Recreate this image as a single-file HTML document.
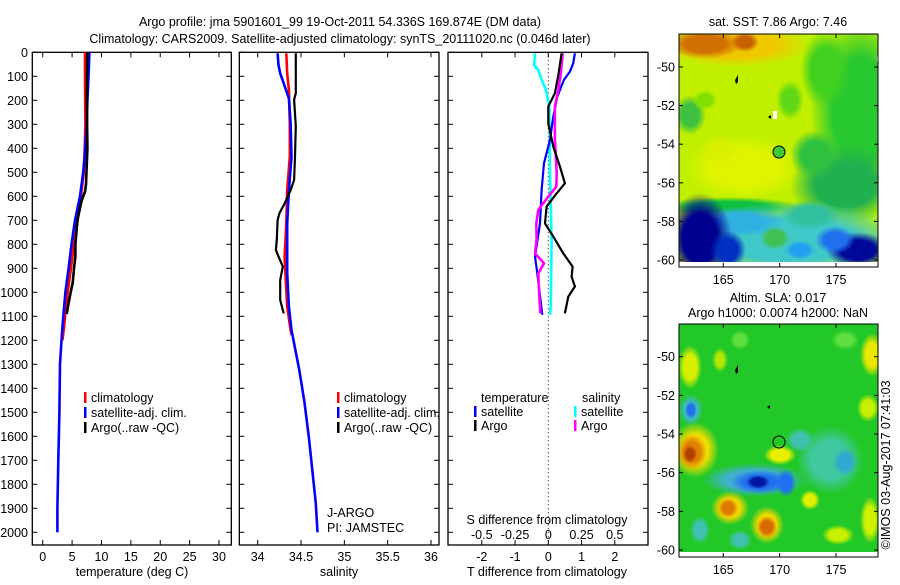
<!DOCTYPE html>
<html><head><meta charset="utf-8">
<style>
html,body{margin:0;padding:0;background:#fff;}
body{width:900px;height:580px;overflow:hidden;}
svg text{font-family:"Liberation Sans",Arial,sans-serif;font-size:12.5px;fill:#000;}
</style></head>
<body>
<svg id="fig" width="900" height="580" xmlns="http://www.w3.org/2000/svg">
<defs id="defs">
<clipPath id="m1c"><rect x="679" y="34" width="199" height="228"/></clipPath>
<clipPath id="m2c"><rect x="679" y="324" width="199" height="228"/></clipPath>
</defs>
<text x="340" y="26" text-anchor="middle" font-size="13.5">Argo profile: jma 5901601_99 19-Oct-2011 54.336S 169.874E (DM data)</text>
<text x="340" y="43" text-anchor="middle" font-size="13.5">Climatology: CARS2009. Satellite-adjusted climatology: synTS_20111020.nc (0.046d later)</text>

<g>
<g clip-path="url(#m1c)">
<rect x="679" y="34" width="199" height="228" fill="#c0f000"/>
<g id="m1blobs"></g>
</g>
<rect x="679" y="262" width="199" height="5" fill="#fff"/>
<rect x="877" y="56" width="2" height="6" fill="#fff"/>
<rect x="773" y="111" width="4" height="8" fill="#fff"/>
<path d="M735,80 l3,-5 l0,7 l-2,2 z" fill="#000"/>
<path d="M768,117 l3,-2 l0,4 z" fill="#000"/>
<circle cx="779" cy="152" r="6" fill="#40c838" stroke="#000" stroke-width="1"/>
<rect x="679" y="34" width="199" height="233" fill="none" stroke="#000" stroke-width="1"/>
</g>
<text x="778" y="26" text-anchor="middle">sat. SST: 7.86 Argo: 7.46</text>

<g>
<g clip-path="url(#m2c)">
<rect x="679" y="324" width="199" height="228" fill="#22c828"/>
<g id="m2blobs"></g>
</g>
<rect x="679" y="552" width="199" height="5" fill="#fff"/>
<path d="M735,370 l3,-5 l0,7 l-2,2 z" fill="#000"/>
<path d="M767,407 l3,-2 l0,4 z" fill="#000"/>
<circle cx="779" cy="442" r="6" fill="none" stroke="#000" stroke-width="1"/>
<rect x="679" y="324" width="199" height="233" fill="none" stroke="#000" stroke-width="1"/>
</g>
<text x="778" y="302" text-anchor="middle">Altim. SLA: 0.017</text>
<text x="778" y="317" text-anchor="middle">Argo h1000: 0.0074 h2000: NaN</text>
<text transform="translate(890,465) rotate(-90)" text-anchor="middle" font-size="12">©IMOS 03-Aug-2017 07:41:03</text>

<g id="dyn"></g>
</svg>
<script>
// ---- data ----
var depthTicks = [0,100,200,300,400,500,600,700,800,900,1000,1100,1200,1300,1400,1500,1600,1700,1800,1900,2000];
var tempTicks = [0,5,10,15,20,25,30];
var salTicks = [34,34.5,35,35.5,36];
var salTickLabels = ["34","34.5","35","35.5","36"];
var tdiffTicks = [-2,-1,0,1,2];
var sdiffTicks = [-0.5,-0.25,0,0.25,0.5];
var sdiffTickLabels = ["-0.5","-0.25","0","0.25","0.5"];

var tempClimDepth = [0,100,300,400,500,600,650,700,800,900,1000,1100,1150,1200];
var tempClim = [7.2,7.2,7.26,7.15,7.0,6.5,6.2,5.95,5.33,4.8,4.25,3.8,3.6,3.35];
var tempSatDepth = [0,100,200,300,400,500,600,700,800,900,1000,1100,1200,1300,1500,1700,1900,2000];
var tempSat = [7.94,7.8,7.6,7.5,7.26,6.9,6.35,5.5,4.9,4.4,3.86,3.5,3.2,2.95,2.84,2.65,2.5,2.5];
var tempArgoDepth = [0,200,400,550,580,620,700,800,850,900,960,1000,1050,1090];
var tempArgo = [7.6,7.5,7.6,7.37,7.2,6.6,5.9,5.56,5.56,5.33,5.1,4.76,4.37,4.08];

var salClimDepth = [4,88,157,296,435,574,713,851,990,1060,1157,1178];
var salClim = [34.33,34.34,34.36,34.37,34.37,34.34,34.33,34.31,34.33,34.34,34.38,34.39];
var salSatDepth = [4,53,88,129,192,296,435,574,713,921,1060,1157,1324,1459,1602,1740,1880,2000];
var salSat = [34.23,34.24,34.26,34.30,34.36,34.38,34.39,34.36,34.34,34.34,34.36,34.39,34.48,34.54,34.59,34.63,34.67,34.69];
var salArgoDepth = [4,171,197,308,435,532,574,630,671,699,782,824,851,893,949,1032,1088];
var salArgo = [34.44,34.44,34.42,34.44,34.43,34.42,34.38,34.31,34.25,34.23,34.22,34.21,34.24,34.29,34.26,34.26,34.30];

var dTsatDepth = [4,46,81,115,185,268,365,462,574,713,851,921,990,1094];
var dTsat = [0.80,0.75,0.65,0.47,0.27,0.15,0.05,-0.13,-0.2,-0.25,-0.4,-0.33,-0.27,-0.18];
var dTargoDepth = [4,88,171,226,296,393,476,546,588,643,713,768,838,893,935,976,1018,1088];
var dTargo = [0.40,0.31,0.2,0.0,0.0,0.15,0.35,0.5,0.25,-0.05,-0.1,0.15,0.45,0.73,0.7,0.8,0.6,0.5];
var dSsatDepth = [4,53,74,115,157,226,504,782,1060,1094];
var dSsat = [-0.10,-0.107,-0.075,-0.05,-0.017,0.008,0.013,0.025,0.018,0.013];
var dSargoDepth = [4,88,157,226,365,504,560,601,657,713,782,838,879,921,990,1088];
var dSargo = [0.108,0.094,0.075,0.05,0.05,0.063,0.06,0.0,-0.075,-0.09,-0.088,-0.1,-0.032,-0.075,-0.07,-0.06];

var mapLonTicks = [165,170,175];
var sstLatTicks = [-50,-52,-54,-56,-58,-60];
var slaLatTicks = [-50,-52,-54,-56,-58,-60];

// ---- axes ----
var TOP=52.3, BOT=545;
function yD(d){ return TOP + d*0.24; }
function xT(t){ return 42.7 + t*(219-42.7)/30; }
function xS(s){ return 257.7 + (s-34)*86.65; }
function xDT(t){ return 548.3 + t*33.25; }
function xDS(s){ return 548.3 + s*4*33.25; }
function lon1(l){ return 723.3 + (l-165)*11.27; }
function lat1(l){ return 67 + (-50-l)*19.3; }
function lat2(l){ return 356.7 + (-50-l)*19.33; }

var NS="http://www.w3.org/2000/svg";
var dyn=document.getElementById('dyn');
function mk(tag, attrs, parent){
  var e=document.createElementNS(NS,tag);
  for(var k in attrs) e.setAttribute(k,attrs[k]);
  (parent||dyn).appendChild(e); return e;
}
function txt(s,x,y,anchor,parent){
  var t=mk('text',{x:x,y:y,'text-anchor':anchor||'middle'},parent); t.textContent=s; return t;
}

// ---- soft map blobs ----
var defs=document.getElementById('defs');
var gradCache={};
function grad(color){
  if(gradCache[color]) return gradCache[color];
  var id='g'+color.replace('#','');
  var g=mk('radialGradient',{id:id},defs);
  mk('stop',{offset:'0','stop-color':color,'stop-opacity':1},g);
  mk('stop',{offset:'0.55','stop-color':color,'stop-opacity':1},g);
  mk('stop',{offset:'1','stop-color':color,'stop-opacity':0},g);
  gradCache[color]=id; return id;
}
function blobs(parentId,list){
  var p=document.getElementById(parentId);
  list.forEach(function(b){
    mk('ellipse',{cx:b[0],cy:b[1],rx:b[2],ry:b[3],fill:'url(#'+grad(b[4])+')'},p);
  });
}
blobs('m1blobs',[
 [860,110,50,95,'#28c830'],[825,70,25,40,'#40d020'],[790,100,14,20,'#60d818'],
 [735,45,75,22,'#f0c800'],[705,44,38,15,'#d07000'],[745,42,14,10,'#c86000'],
 [690,115,16,20,'#40c040'],[705,100,12,10,'#80e000'],
 [745,168,60,32,'#e0f400'],[720,150,20,14,'#d8f000'],
 [845,185,55,40,'#20b050'],[815,155,25,25,'#30c040'],
 [730,207,70,10,'#10c040'],
 [790,240,120,38,'#40c8c8'],[740,222,45,15,'#30b0e0'],
 [700,238,32,45,'#000090'],[728,250,18,20,'#0030c0'],
 [858,250,32,18,'#000898'],[835,240,20,14,'#2070f0'],
 [775,238,15,12,'#40c050'],[810,215,30,15,'#30c0a0'],[800,250,15,10,'#20a0f0']
]);
blobs('m2blobs',[
 [690,367,12,22,'#d8f000'],[720,360,8,12,'#b0e800'],[740,340,10,10,'#60e040'],
 [872,355,12,22,'#e8e800'],[868,408,11,14,'#c8f000'],[845,340,14,10,'#60e040'],
 [691,410,12,16,'#40b8c0'],[691,410,6,9,'#2070f0'],
 [695,450,24,28,'#f0e000'],[692,452,15,18,'#e08000'],[690,454,7,9,'#b04000'],
 [780,455,16,10,'#e8f000'],
 [830,460,34,34,'#40c8a0'],[845,462,12,14,'#30a8d0'],[800,440,14,12,'#40c0b0'],
 [755,480,52,17,'#40b0d0'],[760,482,30,12,'#2070f0'],[758,482,12,7,'#0018a0'],[786,483,10,14,'#2070f0'],
 [730,508,19,17,'#f0d800'],[728,508,10,10,'#e07800'],
 [767,525,17,19,'#f0d800'],[767,527,10,11,'#d86800'],
 [810,500,10,10,'#e0f000'],[838,535,16,10,'#c8f000'],[870,520,10,24,'#d0f000'],
 [700,530,10,14,'#40c0b0'],[740,540,12,10,'#40c0b0']
]);

var panels=[[32.3,231.3],[239.3,439],[448,648]];
var pnames=['temperature-panel','salinity-panel','difference-panel'];
panels.forEach(function(p,i){
  var g=mk('g',{});
  
  
  var r=mk('rect',{x:p[0],y:TOP,width:p[1]-p[0],height:BOT-TOP,fill:'none',stroke:'#000','stroke-width':1.3},g);
  
  
  depthTicks.forEach(function(d){
    mk('line',{x1:p[0],x2:p[0]+5,y1:yD(d),y2:yD(d),stroke:'#000'},g);
    mk('line',{x1:p[1]-5,x2:p[1],y1:yD(d),y2:yD(d),stroke:'#000'},g);
  });
});
depthTicks.forEach(function(d){
  var t=txt(String(d),28,yD(d)+4.5,'end');
  
  
});
function xticks(vals,fx,labels,ly){
  vals.forEach(function(v,i){
    var x=fx(v);
    mk('line',{x1:x,x2:x,y1:BOT,y2:BOT-5,stroke:'#000'});
    mk('line',{x1:x,x2:x,y1:TOP,y2:TOP+5,stroke:'#000'});
    var t=txt(labels?labels[i]:String(v),x,ly);
    
    
  });
}
xticks(tempTicks,xT,null,561);
xticks(salTicks,xS,salTickLabels,561);
xticks(tdiffTicks,xDT,null,561);
sdiffTicks.forEach(function(v,i){
  var t=txt(sdiffTickLabels[i],xDS(v),539);
  
  
});
var a1=txt('temperature (deg C)',132,576);


var a2=txt('salinity',339,576);


var a3=txt('T difference from climatology',547,576);


var a4=txt('S difference from climatology',547,524);


var zl=mk('line',{x1:xDT(0),x2:xDT(0),y1:TOP,y2:BOT,stroke:'#000','stroke-dasharray':'1,3'});



function series(xs,ds,fx,color,name,w){
  var pts=xs.map(function(v,i){ return fx(v).toFixed(1)+','+yD(ds[i]).toFixed(1); }).join(' ');
  var pl=mk('polyline',{points:pts,fill:'none',stroke:color,'stroke-width':w||2.6,'stroke-linejoin':'round'});
  
  
}
series(tempClim,tempClimDepth,xT,'#ff0000','temp-climatology-line');
series(tempSat,tempSatDepth,xT,'#0000ff','temp-satellite-line');
series(tempArgo,tempArgoDepth,xT,'#000000','temp-argo-line');
series(salClim,salClimDepth,xS,'#ff0000','sal-climatology-line');
series(salSat,salSatDepth,xS,'#0000ff','sal-satellite-line');
series(salArgo,salArgoDepth,xS,'#000000','sal-argo-line',2.2);
series(dSsat,dSsatDepth,xDS,'#00ffff','s-diff-satellite-line');
series(dTsat,dTsatDepth,xDT,'#0000ff','t-diff-satellite-line',2.2);
series(dSargo,dSargoDepth,xDS,'#ff00ff','s-diff-argo-line');
series(dTargo,dTargoDepth,xDT,'#000000','t-diff-argo-line',2.2);

function legendEntry(x,y,color,label,name){
  var g=mk('g',{});
  
  
  mk('rect',{x:x,y:y-10,width:2.5,height:11,fill:color},g);
  if(label!==null) txt(label,x+7,y,'start',g);
}
legendEntry(84,402,'#ff0000','climatology','legend-entry-climatology');
legendEntry(84,417,'#0000ff','satellite-adj. clim.','legend-entry-satellite');
legendEntry(84,432,'#000000','Argo(..raw -QC)','legend-entry-argo');
legendEntry(337,402,'#ff0000','climatology','legend-entry-climatology-sal');
legendEntry(337,417,'#0000ff','satellite-adj. clim.','legend-entry-satellite-sal');
legendEntry(337,432,'#000000','Argo(..raw -QC)','legend-entry-argo-sal');
var lt=txt('temperature',481,402,'start');


var ls=txt('salinity',582,402,'start');


legendEntry(474,416,'#0000ff','satellite','legend-entry-t-satellite');
legendEntry(474,430,'#000000','Argo','legend-entry-t-argo');
legendEntry(574,416,'#00ffff','satellite','legend-entry-s-satellite');
legendEntry(574,430,'#ff00ff','Argo','legend-entry-s-argo');
var j1=txt('J-ARGO',327,517,'start');


var j2=txt('PI: JAMSTEC',327,532,'start');



function mapTicks(top,bot,latTicks,flat,ly){
  mapLonTicks.forEach(function(l){
    var x=lon1(l);
    mk('line',{x1:x,x2:x,y1:top,y2:top+4,stroke:'#000'});
    mk('line',{x1:x,x2:x,y1:bot,y2:bot-4,stroke:'#000'});
    var t=txt(String(l),x,ly);
    
    
  });
  latTicks.forEach(function(l){
    var y=flat(l);
    mk('line',{x1:679,x2:683,y1:y,y2:y,stroke:'#000'});
    mk('line',{x1:874,x2:878,y1:y,y2:y,stroke:'#000'});
    var t=txt(String(l),675,y+4.5,'end');
    
    
  });
}
mapTicks(34,267,sstLatTicks,lat1,284);
mapTicks(324,557,slaLatTicks,lat2,574);
</script>
</body></html>
